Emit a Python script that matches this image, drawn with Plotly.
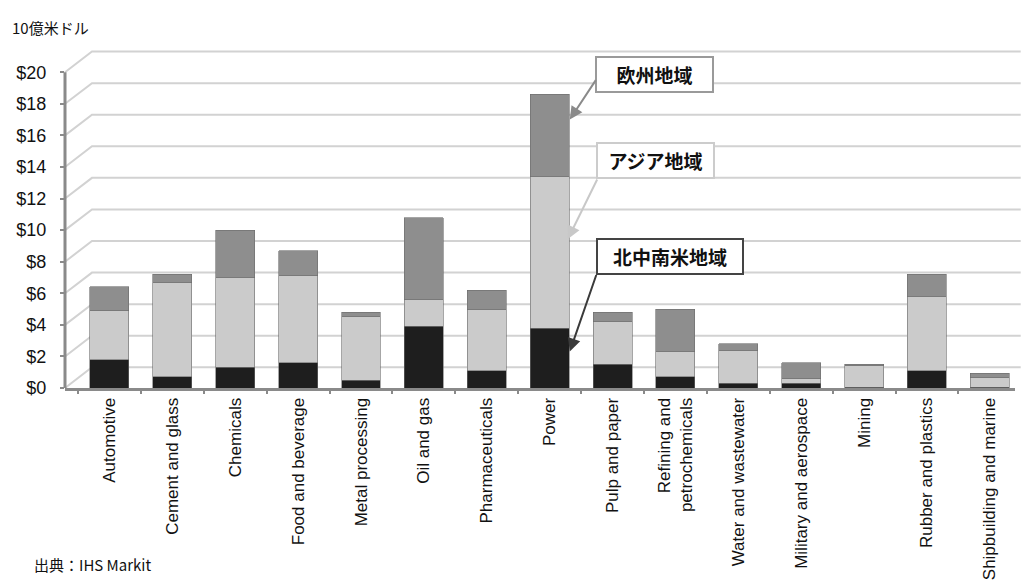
import plotly.graph_objects as go

categories = ["Automotive", "Cement and glass", "Chemicals", "Food and beverage",
              "Metal processing", "Oil and gas", "Pharmaceuticals", "Power",
              "Pulp and paper", "Refining and<br>petrochemicals", "Water and wastewater",
              "Military and aerospace", "Mining", "Rubber and plastics",
              "Shipbuilding and marine"]
americas = [1.8, 0.7, 1.3, 1.6, 0.5, 3.9, 1.1, 3.8, 1.5, 0.7, 0.3, 0.3, 0.05, 1.1, 0.05]
asia =     [3.1, 6.0, 5.7, 5.5, 4.0, 1.7, 3.9, 9.6, 2.7, 1.6, 2.1, 0.3, 1.35, 4.7, 0.6]
europe =   [1.5, 0.5, 3.0, 1.6, 0.3, 5.2, 1.2, 5.2, 0.6, 2.7, 0.4, 1.0, 0.1, 1.4, 0.3]
y_ticks = list(range(0, 21, 2))
y_ticktext = ["$" + str(v) for v in y_ticks]

series = [("北中南米地域", americas, "#1e1e1e"),
          ("アジア地域", asia, "#cbcbcb"),
          ("欧州地域", europe, "#8e8e8e")]

fig = go.Figure()
for name, vals, col in series:
    fig.add_trace(go.Bar(x=categories, y=vals, name=name, width=0.62,
                         marker=dict(color=col, line=dict(color="#6a6a6a", width=0.6)),
                         showlegend=False))

# 3D-style back wall gridlines
shapes = []
for v in y_ticks:
    shapes.append(dict(type="path", xref="paper", yref="y",
                       path=f"M 0,{v} L 0.0284,{v + 1.31} L 1.006,{v + 1.31}",
                       line=dict(color="#d2d2d2", width=2), layer="below"))
# left value axis line
shapes.append(dict(type="line", xref="paper", yref="y", x0=0, x1=0, y0=0, y1=20,
                   line=dict(color="#8a8a8a", width=3), layer="above"))
fig.update_layout(shapes=shapes)

FONT = "Liberation Sans, Arial, Noto Sans CJK JP, sans-serif"
JFONT = "Noto Sans CJK JP, sans-serif"

fig.update_layout(
    barmode="stack",
    width=1021, height=586,
    margin=dict(l=65, r=6, t=47, b=193),
    paper_bgcolor="white", plot_bgcolor="white",
    font=dict(family=FONT, color="#111111"),
    xaxis=dict(range=[-0.707, 14.40], showgrid=False, showline=True,
               linecolor="#8a8a8a", linewidth=3, ticks="outside", tickson="boundaries",
               ticklen=3, tickcolor="#8a8a8a", tickwidth=2, tickangle=-90,
               tickfont=dict(size=17, family=FONT, color="#111111")),
    yaxis=dict(range=[0, 21.6], tickvals=y_ticks, ticktext=y_ticktext, showgrid=False,
               zeroline=False, showline=False, ticks="outside", ticklen=4,
               tickcolor="#8a8a8a", tickwidth=2, ticklabelstandoff=10,
               tickfont=dict(size=18, family=FONT, color="#111111")),
)

annotations = [
    dict(text="10億米ドル", xref="paper", yref="paper", x=-0.058, y=1.058,
         xanchor="left", yanchor="middle", showarrow=False,
         font=dict(size=15, family=JFONT, color="#111111")),
    dict(text="出典：IHS Markit", xref="paper", yref="paper", x=-0.035, y=-0.553,
         xanchor="left", yanchor="bottom", showarrow=False,
         font=dict(size=15, family=JFONT, color="#111111")),
]
boxes = [("欧州地域", 0.621, 0.919, 113, "#9a9a9a"),
         ("アジア地域", 0.622, 0.668, 113, "#cccccc"),
         ("北中南米地域", 0.637, 0.387, 142, "#444444")]
for txt, bx, by, w, bc in boxes:
    annotations.append(dict(text="<b>" + txt + "</b>", xref="paper", yref="paper",
                            x=bx, y=by, xanchor="center", yanchor="middle",
                            showarrow=False, width=w, height=31, borderpad=1,
                            bordercolor=bc, borderwidth=2, bgcolor="white",
                            font=dict(size=19, family=JFONT, color="#111111")))
arrows = [(7.32, 17.0, 27, -41, "#8a8a8a"),
          (7.29, 9.44, 30, -61, "#c8c8c8"),
          (7.32, 2.31, 27, -78, "#3a3a3a")]
for ax_x, ax_y, dx, dy, col in arrows:
    annotations.append(dict(text="", x=ax_x, y=ax_y, xref="x", yref="y",
                            ax=dx, ay=dy, showarrow=True, arrowhead=2,
                            arrowsize=1.3, arrowwidth=2, arrowcolor=col))
fig.update_layout(annotations=annotations)

fig.write_html("out.html")
